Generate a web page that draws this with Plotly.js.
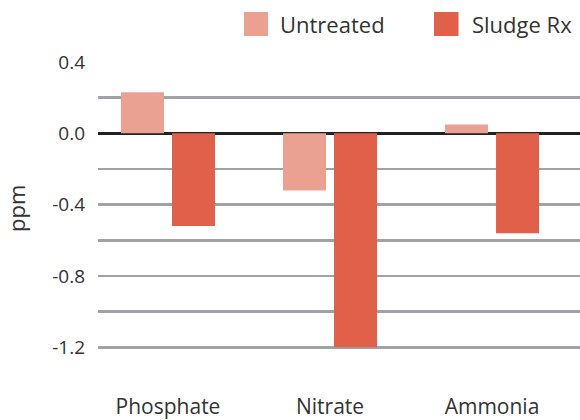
<!DOCTYPE html>
<html>
<head>
<meta charset="utf-8">
<script src="https://cdn.plot.ly/plotly-3.0.1.min.js"></script>
<style>html,body{margin:0;padding:0;background:#fff;}#chart{width:580px;height:420px;}</style>
</head>
<body>
<div id="chart"></div>
<script>
var categories = ['Phosphate', 'Nitrate', 'Ammonia'];
var seriesNames = ['Untreated', 'Sludge Rx'];
var untreated = [0.23, -0.32, 0.05];
var sludgeRx = [-0.52, -1.2, -0.56];
var yTickVals = [-1.4, -1.2, -1.0, -0.8, -0.6, -0.4, -0.2, 0.0, 0.2, 0.4];
var yTickText = ['', '-1.2', '', '-0.8', '', '-0.4', '', '0.0', '', '0.4'];
var yTitle = 'ppm';

var colors = ['#EAA191', '#E0604A'];
var FONT = '"Open Sans", sans-serif';

var traces = [
  {type: 'bar', x: categories, y: untreated, name: seriesNames[0], marker: {color: colors[0]}, showlegend: false, hoverinfo: 'none'},
  {type: 'bar', x: categories, y: sludgeRx, name: seriesNames[1], marker: {color: colors[1]}, showlegend: false, hoverinfo: 'none'}
];

var L = 98, R = 580, T = 62, B = 383;
function px(x) { return (x - L) / (R - L); }
function py(y) { return (B - y) / (B - T); }

var shapes = [
  {type: 'rect', xref: 'paper', yref: 'paper', x0: px(244), x1: px(268), y0: py(36), y1: py(12), fillcolor: colors[0], line: {width: 0}},
  {type: 'rect', xref: 'paper', yref: 'paper', x0: px(434), x1: px(458.5), y0: py(36), y1: py(12), fillcolor: colors[1], line: {width: 0}}
];
var annotations = [
  {xref: 'paper', yref: 'paper', x: px(278), y: py(24), xanchor: 'left', yanchor: 'middle', text: seriesNames[0], showarrow: false, font: {family: FONT, size: 22, color: '#333'}},
  {xref: 'paper', yref: 'paper', x: px(469.5), y: py(24), xanchor: 'left', yanchor: 'middle', text: seriesNames[1], showarrow: false, font: {family: FONT, size: 22, color: '#333'}},
  {xref: 'paper', yref: 'paper', x: px(16), y: py(209), xanchor: 'center', yanchor: 'middle', textangle: -90, text: yTitle, showarrow: false, font: {family: FONT, size: 22, color: '#333'}}
];

var layout = {
  width: 580, height: 420,
  margin: {l: L, r: 580 - R, t: T, b: 420 - B, pad: 0},
  paper_bgcolor: '#fff', plot_bgcolor: '#fff',
  font: {family: FONT, color: '#333'},
  barmode: 'group', bargap: 0.37, bargroupgap: 0.157,
  showlegend: false,
  xaxis: {
    type: 'category', range: [-0.432, 2.543],
    showgrid: false, showline: false, zeroline: false, ticks: '',
    tickfont: {family: FONT, size: 21, color: '#333'},
    ticklabelstandoff: 9, fixedrange: true
  },
  yaxis: {
    range: [-1.4, 0.4], tickvals: yTickVals, ticktext: yTickText,
    showgrid: true, gridcolor: '#A2A2A6', gridwidth: 2.5,
    zeroline: true, zerolinecolor: '#222', zerolinewidth: 3,
    showline: false, ticks: '',
    tickfont: {family: FONT, size: 19, color: '#333'},
    ticklabelstandoff: 12, fixedrange: true
  },
  shapes: shapes,
  annotations: annotations
};

Plotly.newPlot('chart', traces, layout, {displayModeBar: false, staticPlot: true});
</script>
</body>
</html>
